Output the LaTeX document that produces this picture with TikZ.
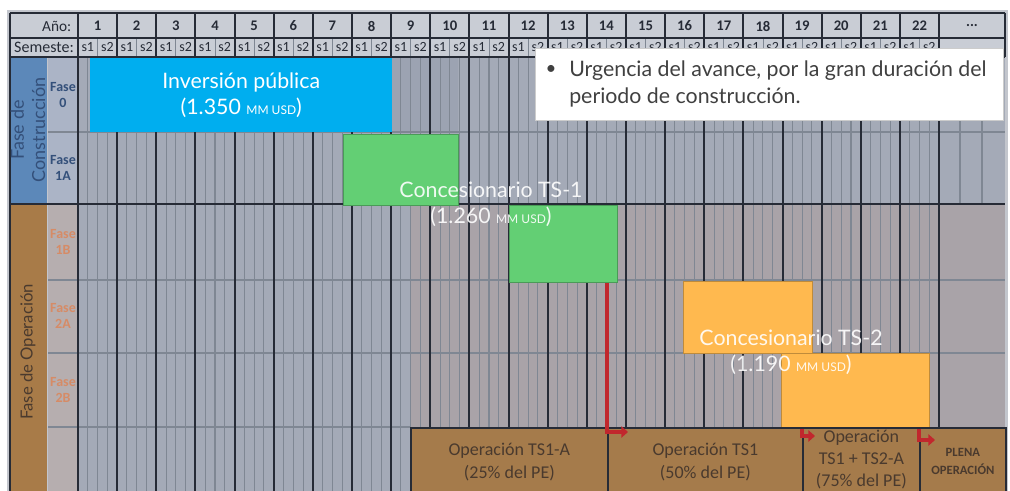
\documentclass[tikz,border=0pt]{standalone}
\usepackage{fontspec}
\setmainfont{Carlito}
\newfontfamily\latofont{Lato}
\usetikzlibrary{positioning,arrows.meta}

\definecolor{hdrgray}{HTML}{C9CDD5}
\definecolor{framegray}{HTML}{C3C6CD}
\definecolor{gridblue}{HTML}{A4AAB7}
\definecolor{griddark}{HTML}{9CA3B2}
\definecolor{gridmauve}{HTML}{A9A3A8}
\definecolor{subgray}{HTML}{7F8793}
\definecolor{darkline}{HTML}{262B36}
\definecolor{consblue}{HTML}{5C88B9}
\definecolor{consfase}{HTML}{ABB4C6}
\definecolor{constext}{HTML}{34507A}
\definecolor{opbrown}{HTML}{A87B48}
\definecolor{opfase}{HTML}{B6AEAF}
\definecolor{optext}{HTML}{D68B66}
\definecolor{invblue}{HTML}{00AEEF}
\definecolor{tsgreen}{HTML}{63CF74}
\definecolor{tsorange}{HTML}{FFB94F}
\definecolor{bottombrown}{HTML}{A57B4B}
\definecolor{bottomtext}{HTML}{4A3A2E}
\definecolor{arrowred}{HTML}{C1272D}
\definecolor{notetext}{HTML}{404040}

\begin{document}
\begin{tikzpicture}[x=0.75pt,y=-0.75pt,
    sz/.style 2 args={minimum width=#1*0.75pt,minimum height=#2*0.75pt,inner sep=0pt},
    yearline/.style={darkline,line width=1.5pt},
    subline/.style={subgray,line width=0.8pt},
    rowline/.style={subgray,line width=0.9pt},
    hdrlbl/.style={font=\bfseries\fontsize{11}{11}\selectfont,text=darkline},
    semlbl/.style={font=\fontsize{10.5}{10.5}\selectfont,text=darkline,inner sep=0pt},
    faselbl/.style={font=\bfseries\fontsize{10.5}{12.5}\selectfont,align=center},
    sectlbl/.style={rotate=90,font=\latofont\fontsize{12.5}{14}\selectfont,align=center},
    invbox/.style={fill=invblue,anchor=north west},
    tsonebox/.style={fill=tsgreen,draw=tsgreen!75!black,line width=0.6pt,anchor=north west},
    tstwobox/.style={fill=tsorange,draw=tsorange!75!black,line width=0.6pt,anchor=north west},
    biglbl/.style={font=\latofont\fontsize{16}{19.5}\selectfont,align=center},
    opbox/.style={fill=bottombrown,draw=darkline,line width=1.3pt,anchor=north west,align=center,
      text=bottomtext,font=\fontsize{13.5}{17}\selectfont},
    redarr/.style={arrowred,line width=3.3pt,-{Triangle[length=5pt,width=8.5pt]}}
  ]
  \useasboundingbox (0,0) rectangle (1010,491);
  \fill[white] (0,0) rectangle (1010,491);
  \fill[framegray] (7,10) rectangle (1008,491);
  \fill[hdrgray] (10,13) rectangle (1005,57);
  \fill[gridblue] (78,57) rectangle (1005,204);
  \fill[griddark] (392,57) rectangle (458,132);
  \fill[gridblue] (78,204) rectangle (410,491);
  \fill[gridmauve] (410,204) rectangle (1005,491);
  \fill[consblue] (10,57) rectangle (47,204);
  \fill[consfase] (48,57) rectangle (78,204);
  \fill[opbrown] (10,204) rectangle (47,491);
  \fill[opfase] (48,204) rectangle (78,491);

  \foreach \i in {0,...,21}
    \foreach \q in {0.25,0.5,0.75}
      \draw[subline] ({78+39.14*(\i+\q)},57) -- ({78+39.14*(\i+\q)},491);
  \foreach \i in {0,...,21}
    \draw[subgray,line width=0.6pt] ({78+39.14*(\i+0.5)},38) -- ++(0,19);
  \foreach \x in {960,982}
    \draw[subline] (\x,57) -- (\x,204);

  \draw[rowline] (48,132) -- (1005,132);
  \draw[rowline] (48,280) -- (1005,280);
  \draw[rowline] (48,353) -- (1005,353);
  \draw[rowline] (48,427) -- (410,427);

  \foreach \i in {0,...,22}
    \draw[yearline] ({78+39.14*\i},13) -- ({78+39.14*\i},491);
  \foreach \y in {13,38,57,204}
    \draw[yearline] (10,\y) -- (1005,\y);
  \draw[yearline] (10,13) -- (10,491);
  \draw[yearline] (1005,13) -- (1005,57);

  \node[font=\fontsize{11.5}{11.5}\selectfont,text=darkline,anchor=east] (anio) at (76,26) {Año:};
  \node[font=\fontsize{12}{12}\selectfont,text=darkline] (semeste) at (44,47.5) {Semeste:};
  \foreach \i in {1,...,22}{
    \node[hdrlbl] (year\i) at ({78+39.14*(\i-0.5)},26) {\i};
    \node[semlbl] (sa\i) at ({78+39.14*(\i-0.75)},47.5) {s1};
    \node[semlbl] (sb\i) at ({78+39.14*(\i-0.25)},47.5) {s2};
  }
  \node[hdrlbl] (dots) at (972,26) {...};

  \node[sectlbl,text=constext,font=\latofont\fontsize{13.5}{16}\selectfont] (cons) at (28,130) {Fase de\\Construcción};
  \node[sectlbl,text=bottomtext] (oper) at (28,352) {Fase de Operación};
  \node[faselbl,text=constext] (f0) at (63,95) {Fase\\0};
  \node[faselbl,text=constext] (f1a) at (63,168) {Fase\\1A};
  \node[faselbl,text=optext] (f1b) at (63,242) {Fase\\1B};
  \node[faselbl,text=optext] (f2a) at (63,316) {Fase\\2A};
  \node[faselbl,text=optext] (f2b) at (63,390) {Fase\\2B};

  \node[invbox,sz={302}{74},biglbl,text=white] (inv) at (90,58)
    {Inversión pública\\(1.350 {\small MM USD})};
  \node[tsonebox,sz={115}{71}] (g1) at (343,134) {};
  \node[tsonebox,sz={108}{77}] (g2) at (509,205) {};
  \node[biglbl,text=white,opacity=0.9] (ts1lbl) at (491,204)
    {Concesionario TS-1\\(1.260 {\small MM USD})};
  \node[tstwobox,sz={129}{72}] (o1) at (683,281) {};
  \node[tstwobox,sz={148}{75}] (o2) at (781,353) {};
  \node[biglbl,text=white,opacity=0.9] (ts2lbl) at (791,352)
    {Concesionario TS-2\\(1.190 {\small MM USD})};

  \node[opbox,sz={197}{68}] (b1) at (410,427) {Operación TS1-A\\(25\% del PE)};
  \node[opbox,sz={195}{68}] (b2) at (607,427) {Operación TS1\\(50\% del PE)};
  \node[opbox,sz={117}{68}] (b3) at (802,427) {};
  \node[text=bottomtext,font=\fontsize{13.5}{16.5}\selectfont,align=center] (b3txt)
    at ([yshift=1.5pt]b3.center) {Operación\\TS1 + TS2-A\\(75\% del PE)};
  \node[opbox,sz={86}{68},font=\bfseries\fontsize{9.5}{13.5}\selectfont] (b4) at (919,427)
    {PLENA\\OPERACIÓN};

  \coordinate (r1) at (628,432);
  \coordinate (r2) at (815,436);
  \coordinate (r3) at (935,440);
  \draw[redarr] (g2.south -| b2.west) |- (r1);
  \draw[redarr] (o2.south -| b3.west) |- (r2);
  \draw[redarr] (o2.south -| b4.west) |- (r3);

  \node[fill=white,draw=black!20,line width=0.8pt,sz={468}{72},anchor=north west] (note) at (535,48) {};
  \node[text=notetext,font=\latofont\fontsize{14}{14}\selectfont] (bul) at (551,70) {\textbullet};
  \node[text=notetext,font=\latofont\fontsize{16}{20}\selectfont,align=left,anchor=west,inner sep=0pt] (notetxt) at (569,84)
    {Urgencia del avance, por la gran duración del\\periodo de construcción.};
\end{tikzpicture}
\end{document}
